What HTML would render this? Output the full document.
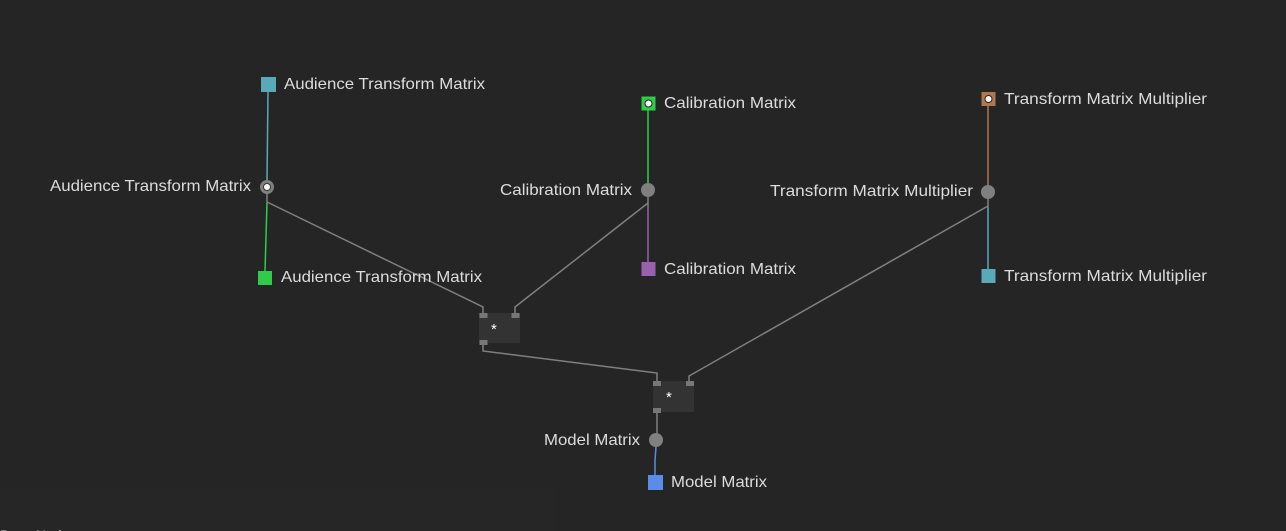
<!DOCTYPE html>
<html><head><meta charset="utf-8"><style>
html,body{margin:0;padding:0;background:#252525;width:1286px;height:531px;overflow:hidden;}
svg{display:block}
text{font-family:"Liberation Sans",sans-serif;font-size:16px;fill:#dcdcdc;}
</style></head><body>
<svg width="1286" height="531" xmlns="http://www.w3.org/2000/svg">
<rect x="0" y="0" width="1286" height="531" fill="#252525"/>
<rect x="0" y="488" width="555" height="43" fill="#262626"/>
<g fill="none" stroke-width="1.5">
<line x1="268" y1="92" x2="267" y2="180" stroke="#5aa9b8"/>
<line x1="267" y1="194" x2="267" y2="203" stroke="#808080"/>
<line x1="267" y1="203" x2="265" y2="271" stroke="#2ecc4a"/>
<polyline points="267,202 483,307 483,313" stroke="#808080"/>
<line x1="648" y1="110" x2="648" y2="183" stroke="#2ecc4a"/>
<line x1="648" y1="197" x2="648" y2="207" stroke="#808080"/>
<line x1="648" y1="207" x2="648" y2="262" stroke="#9b5fb0"/>
<polyline points="648,203 515,307 515,313" stroke="#808080"/>
<line x1="988" y1="106" x2="988" y2="185" stroke="#b07850"/>
<line x1="988" y1="199" x2="988" y2="207" stroke="#808080"/>
<line x1="988" y1="207" x2="988" y2="269" stroke="#5aa9b8"/>
<polyline points="988,206 689,376 689,381" stroke="#808080"/>
<polyline points="483,345 483,351 657,373 657,381" stroke="#808080"/>
<line x1="657" y1="413" x2="657" y2="433" stroke="#808080"/>
<polyline points="656,447 655,460 655,475" stroke="#5b8de8"/>
</g>
<rect x="479" y="313" width="41" height="30" fill="#333"/>
<rect x="479.5" y="313" width="8" height="5" fill="#777"/>
<rect x="511.5" y="313" width="8" height="5" fill="#777"/>
<rect x="479.5" y="340" width="8" height="5" fill="#777"/>
<text x="491" y="334" style="font-size:15px;fill:#fff">*</text>
<rect x="653" y="381" width="41" height="31" fill="#333"/>
<rect x="653" y="381" width="8" height="5" fill="#777"/>
<rect x="686" y="381" width="8" height="5" fill="#777"/>
<rect x="653" y="408" width="8" height="5" fill="#777"/>
<text x="666" y="402" style="font-size:15px;fill:#fff">*</text>
<rect x="261" y="77" width="15" height="15" fill="#5aa9b8"/>
<rect x="258" y="271" width="14" height="14" fill="#2ecc4a"/>
<rect x="641.5" y="96.5" width="14" height="14" fill="#2ecc4a"/>
<circle cx="648.5" cy="103.5" r="3.5" fill="#fff" stroke="#222" stroke-width="1"/>
<rect x="641.5" y="262" width="14" height="14" fill="#9b5fb0"/>
<rect x="981.5" y="92" width="14" height="14" fill="#b07850"/>
<circle cx="988.5" cy="99" r="3.5" fill="#fff" stroke="#222" stroke-width="1"/>
<rect x="981.5" y="269" width="14" height="14" fill="#5aa9b8"/>
<rect x="648" y="475" width="15" height="15" fill="#5b8de8"/>
<circle cx="267" cy="187" r="7" fill="#808080"/>
<circle cx="267" cy="187" r="3.5" fill="#fff" stroke="#333" stroke-width="1"/>
<circle cx="648" cy="190" r="7" fill="#808080"/>
<circle cx="988" cy="192" r="7" fill="#808080"/>
<circle cx="656" cy="440" r="7" fill="#808080"/>
<text x="284" y="89" textLength="201" lengthAdjust="spacingAndGlyphs">Audience Transform Matrix</text>
<text x="50" y="191" textLength="201" lengthAdjust="spacingAndGlyphs">Audience Transform Matrix</text>
<text x="281" y="282" textLength="201" lengthAdjust="spacingAndGlyphs">Audience Transform Matrix</text>
<text x="664" y="108" textLength="132" lengthAdjust="spacingAndGlyphs">Calibration Matrix</text>
<text x="500" y="195" textLength="132" lengthAdjust="spacingAndGlyphs">Calibration Matrix</text>
<text x="664" y="274" textLength="132" lengthAdjust="spacingAndGlyphs">Calibration Matrix</text>
<text x="1004" y="104" textLength="203" lengthAdjust="spacingAndGlyphs">Transform Matrix Multiplier</text>
<text x="770" y="196" textLength="203" lengthAdjust="spacingAndGlyphs">Transform Matrix Multiplier</text>
<text x="1004" y="281" textLength="203" lengthAdjust="spacingAndGlyphs">Transform Matrix Multiplier</text>
<text x="544" y="445" textLength="96" lengthAdjust="spacingAndGlyphs">Model Matrix</text>
<text x="671" y="487" textLength="96" lengthAdjust="spacingAndGlyphs">Model Matrix</text>
<text x="0" y="540" style="font-size:14px">Base Nodes</text>
</svg>
</body></html>
